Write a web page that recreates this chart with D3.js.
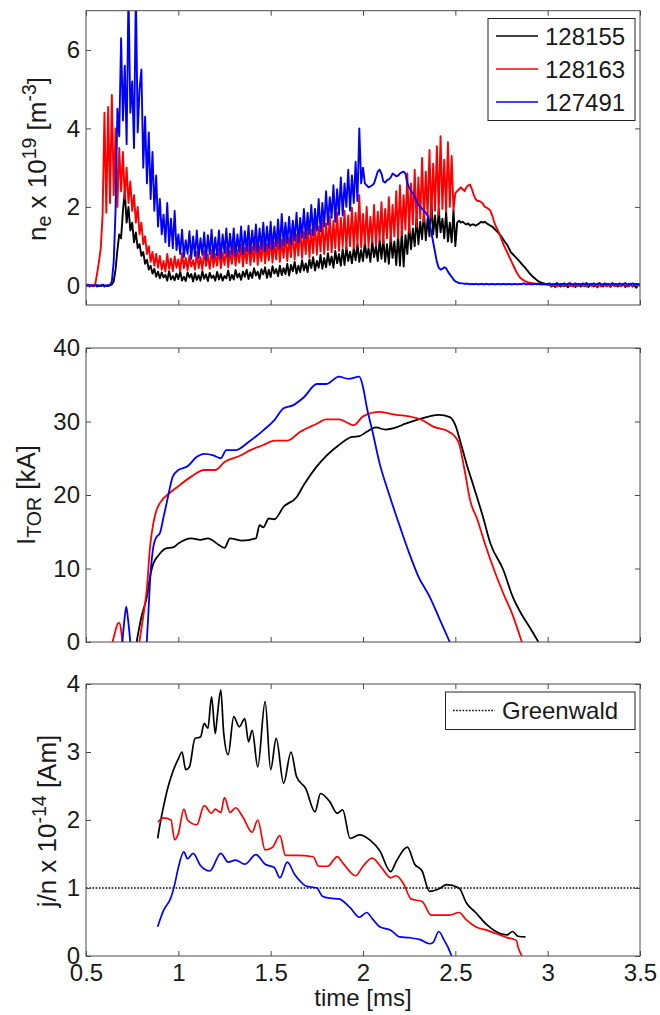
<!DOCTYPE html>
<html><head><meta charset="utf-8">
<script src="https://cdn.jsdelivr.net/npm/d3@7"></script>
<style>body{margin:0;background:#fff} svg{display:block}</style>
</head><body>
<svg id="c" width="660" height="1015"></svg>
<script>
// ---------- DATA ----------
// shared time axis [ms]
const xTicks = [0.5, 1, 1.5, 2, 2.5, 3, 3.5];
const xTickLabels = ["0.5", "1", "1.5", "2", "2.5", "3", "3.5"];
const shots = ["128155", "128163", "127491"];
const shotColors = ["#000000", "#ff0000", "#0000ff"];

// Panel 1: n_e x 1e19 [m^-3], sampled every 0.01 ms; each row = 0.1 ms starting at 0.5 ms
const neRowStart = 0.5, neRowLen = 0.1, neStep = 0.01;
const ne128155 = [
 [-0.02,0.01,-0.03,0.0,-0.02,0.02,-0.03,0.0,-0.02,0.01],
 [-0.03,0.0,-0.02,0.01,0.02,0.1,0.4,0.9,1.3,1.2],
 [1.9,2.4,1.6,2.0,1.4,1.6,1.1,1.35,0.95,1.05],
 [0.75,0.85,0.55,0.65,0.4,0.5,0.3,0.42,0.22,0.35],
 [0.18,0.33,0.2,0.27,0.12,0.36,0.15,0.24,0.13,0.3],
 [0.16,0.35,0.12,0.22,0.11,0.33,0.2,0.29,0.1,0.31],
 [0.14,0.26,0.12,0.36,0.17,0.28,0.11,0.32,0.19,0.25],
 [0.12,0.34,0.15,0.29,0.12,0.24,0.18,0.38,0.13,0.27],
 [0.15,0.39,0.2,0.3,0.14,0.35,0.22,0.4,0.16,0.33],
 [0.19,0.44,0.25,0.35,0.17,0.41,0.28,0.46,0.19,0.4],
 [0.21,0.49,0.3,0.42,0.24,0.5,0.26,0.44,0.29,0.55],
 [0.25,0.52,0.36,0.6,0.3,0.5,0.34,0.64,0.38,0.56],
 [0.34,0.66,0.44,0.72,0.38,0.62,0.45,0.78,0.42,0.7],
 [0.46,0.82,0.52,0.74,0.45,0.88,0.56,0.8,0.5,0.92],
 [0.52,0.98,0.62,0.86,0.56,0.96,0.64,1.06,0.6,0.9],
 [0.62,1.1,0.7,0.95,0.6,1.12,0.72,1.0,0.62,1.16],
 [0.68,1.2,0.6,1.05,0.55,1.25,0.7,1.12,0.52,1.3],
 [0.5,1.38,0.48,1.28,0.8,1.55,0.92,1.45,1.0,1.75],
 [1.05,1.62,1.18,1.88,1.15,1.7,1.25,2.15,1.3,1.78],
 [1.22,1.95,1.35,1.7,1.2,1.88,1.12,1.6,1.1,1.92],
 [1.0,1.6,1.65,1.6,1.62,1.58,1.55,1.58,1.52,1.55],
 [1.55,1.52,1.55,1.58,1.62,1.6,1.62,1.58,1.55,1.52],
 [1.5,1.45,1.4,1.35,1.3,1.24,1.17,1.1,1.04,0.95],
 [0.85,0.8,0.75,0.7,0.65,0.6,0.54,0.49,0.44,0.38],
 [0.32,0.27,0.22,0.18,0.14,0.1,0.08,0.06,0.05,0.04],
 [0.03,0.02,-0.03,0.01,-0.04,0.02,0.0,-0.03,0.03,-0.02],
 [0.01,-0.05,0.02,-0.01,0.03,-0.04,0.0,0.02,-0.03,0.01],
 [-0.02,0.03,-0.04,0.0,0.02,-0.03,0.01,-0.05,0.02,0.0],
 [-0.03,0.02,-0.02,0.01,-0.04,0.03,-0.01,0.02,-0.03,0.0],
 [-0.02,0.03,-0.04,0.01,-0.02,0.02,-0.03,0.0,-0.06,0.02],
 [-0.01]
];
const ne128163 = [
 [0.0,-0.02,0.01,-0.02,0.0,0.03,0.3,0.6,0.95,1.8],
 [4.4,1.85,4.55,2.1,4.85,2.3,4.0,2.0,3.5,2.4],
 [3.4,2.2,3.0,2.1,2.65,1.9,2.3,1.6,2.0,1.3],
 [1.6,1.05,1.25,0.8,1.0,0.6,0.85,0.5,0.8,0.45],
 [0.75,0.4,0.62,0.35,0.8,0.42,0.68,0.36,0.74,0.45],
 [0.66,0.36,0.82,0.44,0.7,0.38,0.76,0.48,0.64,0.4],
 [0.85,0.44,0.72,0.4,0.88,0.5,0.78,0.42,0.9,0.47],
 [0.8,0.5,0.95,0.44,0.84,0.52,0.98,0.46,0.88,0.55],
 [1.02,0.5,0.9,0.58,1.05,0.48,0.96,0.56,1.1,0.52],
 [0.98,0.6,1.12,0.52,1.02,0.62,1.16,0.56,1.05,0.64],
 [1.2,0.58,1.1,0.66,1.25,0.6,1.16,0.7,1.3,0.62],
 [1.22,0.72,1.4,0.66,1.3,0.76,1.48,0.7,1.36,0.8],
 [1.55,0.72,1.42,0.82,1.6,0.78,1.5,0.86,1.68,0.8],
 [1.58,0.9,1.76,0.84,1.65,0.95,1.85,0.88,1.72,0.98],
 [1.9,0.92,1.78,1.0,1.98,0.94,1.85,1.02,2.3,0.96],
 [1.82,1.05,2.0,0.98,1.75,1.1,2.05,1.02,1.88,1.15],
 [2.12,1.08,1.95,1.2,2.25,1.12,2.05,1.25,2.4,1.2],
 [2.55,1.28,2.3,1.42,2.85,1.35,2.6,1.55,2.95,1.5],
 [2.75,1.7,3.25,1.62,2.9,1.78,3.45,1.72,3.1,1.9],
 [3.55,1.8,3.8,1.95,3.2,1.88,3.65,2.0,3.3,1.92],
 [2.35,2.4,2.45,2.5,2.45,2.4,2.5,2.55,2.57,2.45],
 [2.3,2.2,2.15,2.15,2.12,2.08,2.0,1.98,1.95,1.9],
 [1.78,1.62,1.5,1.4,1.3,1.18,1.05,0.95,0.85,0.75],
 [0.65,0.55,0.45,0.35,0.27,0.2,0.16,0.13,0.1,0.08],
 [0.07,0.06,0.05,0.05,0.04,0.04,0.03,0.03,0.02,0.03],
 [0.01,0.03,-0.02,0.02,0.0,-0.03,0.03,0.01,-0.02,0.02],
 [0.0,0.04,-0.02,0.01,-0.03,0.02,0.0,-0.02,0.03,-0.01],
 [0.02,-0.03,0.01,0.04,-0.02,0.0,0.03,-0.02,0.01,-0.03],
 [0.03,0.0,-0.02,0.02,-0.03,0.04,0.0,-0.02,0.02,0.01],
 [-0.02,0.03,0.0,-0.03,0.02,0.01,-0.02,0.04,0.0,0.02],
 [0.0]
];
const ne127491 = [
 [0.0,0.02,-0.01,0.01,-0.02,0.0,0.01,-0.02,0.0,0.02],
 [0.0,-0.02,0.01,0.0,0.1,0.6,1.9,4.5,3.8,6.3],
 [4.2,5.6,3.6,7.5,4.4,5.2,3.5,7.5,3.9,5.0],
 [5.5,3.0,4.3,2.6,3.9,2.2,3.4,1.9,2.8,1.5],
 [2.2,1.3,1.8,1.1,2.1,1.0,1.7,0.95,1.9,0.9],
 [1.3,0.8,1.42,0.72,1.15,0.8,1.38,0.68,1.25,0.75],
 [1.4,0.7,1.2,0.78,1.35,0.66,1.28,0.8,1.42,0.7],
 [1.22,0.76,1.4,0.7,1.3,0.82,1.45,0.74,1.32,0.8],
 [1.45,0.75,1.3,0.85,1.5,0.8,1.38,0.88,1.52,0.82],
 [1.4,0.9,1.55,0.84,1.45,0.92,1.6,0.88,1.5,0.95],
 [1.62,0.92,1.5,1.0,1.68,0.96,1.82,1.02,1.6,1.08],
 [1.75,1.05,1.65,1.15,1.85,1.1,1.72,1.22,1.95,1.2],
 [1.85,1.3,2.05,1.28,1.95,1.4,2.2,1.38,2.1,1.5],
 [2.4,1.55,2.25,1.72,2.55,1.62,2.45,1.8,2.75,1.78],
 [2.6,2.0,2.95,1.9,2.8,2.1,3.15,2.15,4.0,2.6],
 [3.0,2.6,2.55,2.5,2.52,2.55,2.6,2.75,2.9,2.95],
 [2.85,2.65,2.62,2.68,2.7,2.75,2.85,2.82,2.78,2.8],
 [2.85,2.88,2.9,2.85,2.6,2.5,2.4,2.35,2.25,2.15],
 [2.05,2.0,1.95,1.9,1.85,1.78,1.6,1.35,1.1,0.85],
 [0.6,0.45,0.4,0.42,0.46,0.44,0.35,0.28,0.22,0.15],
 [0.1,0.08,0.06,0.05,0.05,0.04,0.04,0.04,0.03,0.04],
 [0.03,0.04,0.03,0.03,0.04,0.03,0.03,0.04,0.03,0.03],
 [0.04,0.03,0.03,0.04,0.03,0.03,0.04,0.03,0.03,0.04],
 [0.03,0.03,0.04,0.03,0.03,0.04,0.03,0.05,0.03,0.03],
 [0.04,0.03,0.03,0.04,0.03,0.04,0.03,0.03,0.04,0.03],
 [0.03,0.05,0.02,0.04,0.03,0.06,0.02,0.04,0.03,0.05],
 [0.02,0.04,0.06,0.03,0.02,0.05,0.03,0.04,0.02,0.05],
 [0.03,0.06,0.02,0.04,0.03,0.05,0.02,0.04,0.06,0.03],
 [0.02,0.05,0.03,0.04,0.02,0.06,0.03,0.04,0.02,0.05],
 [0.03,0.04,0.06,0.02,0.04,0.03,0.05,0.02,0.04,0.03],
 [0.03]
];
const neYTicks = [0, 2, 4, 6];

// Panel 2: I_TOR [kA], [time, value]; null = no signal above zero
const itor128155 = [[0.774,0],[0.80,3.4],[0.83,6.2],[0.85,9.3],[0.865,10.7],[0.893,11.8],[0.93,12.7],[0.974,12.9],[1.0,13.4],[1.07,14.1],[1.12,13.9],[1.16,14.1],[1.22,13.2],[1.25,12.8],[1.28,14.1],[1.34,13.8],[1.42,14.1],[1.44,15.9],[1.46,15.6],[1.49,16.8],[1.52,16.7],[1.57,18.4],[1.64,19.7],[1.68,21.4],[1.75,23.9],[1.8,25.3],[1.87,26.8],[1.94,27.9],[1.98,28.0],[2.02,28.6],[2.07,29.2],[2.12,28.9],[2.18,29.2],[2.23,29.7],[2.3,30.3],[2.36,30.7],[2.41,30.9],[2.47,30.6],[2.5,29.5],[2.53,27.0],[2.56,24.3],[2.6,21.1],[2.65,17.0],[2.69,13.4],[2.76,9.8],[2.81,6.2],[2.86,3.7],[2.9,2.1],[2.95,0]];
const itor128163 = [[0.644,0],[0.66,1.6],[0.672,2.5],[0.68,2.6],[0.69,1.6],[0.697,0],null,[0.789,0],[0.81,3.5],[0.829,7.1],[0.847,13.0],[0.865,16.2],[0.88,17.8],[0.90,18.9],[0.954,20.3],[1.0,21.2],[1.07,22.5],[1.14,23.4],[1.2,23.4],[1.25,24.5],[1.34,25.4],[1.39,26.1],[1.46,26.8],[1.52,27.4],[1.59,27.4],[1.66,28.6],[1.75,29.7],[1.8,30.3],[1.87,30.3],[1.95,29.5],[2.0,30.7],[2.09,31.3],[2.18,30.9],[2.25,30.7],[2.32,30.2],[2.38,29.3],[2.45,28.8],[2.5,27.9],[2.52,27.0],[2.55,23.4],[2.58,19.3],[2.62,16.6],[2.66,13.4],[2.71,9.8],[2.76,6.6],[2.81,3.7],[2.86,0]];
const itor127491 = [[0.697,0],[0.708,3.0],[0.718,4.8],[0.728,3.0],[0.74,0],null,[0.829,0],[0.838,4.0],[0.847,8.4],[0.865,13.0],[0.88,14.2],[0.9,14.8],[0.92,17.0],[0.94,19.3],[0.97,22.5],[1.0,23.4],[1.05,23.9],[1.1,25.2],[1.14,25.6],[1.19,25.4],[1.23,25.0],[1.26,26.1],[1.31,26.1],[1.38,27.2],[1.46,28.8],[1.52,30.2],[1.57,31.8],[1.62,32.2],[1.68,33.3],[1.75,35.1],[1.8,35.1],[1.87,36.1],[1.92,35.8],[1.98,36.1],[2.0,34.7],[2.02,32.0],[2.05,28.8],[2.09,24.3],[2.14,20.2],[2.2,15.7],[2.25,12.1],[2.3,8.9],[2.36,6.2],[2.41,3.4],[2.47,0]];
const itorYTicks = [0, 10, 20, 30, 40];

// Panel 3: j/n x 1e-14 [Am], [time, value]
const jn128155 = [[0.888,1.73],[0.905,2.0],[0.92,2.2],[0.94,2.44],[0.97,2.71],[1.0,2.9],[1.02,3.0],[1.04,2.74],[1.06,2.78],[1.09,3.2],[1.12,3.22],[1.14,3.42],[1.16,3.35],[1.18,3.81],[1.2,3.27],[1.21,3.5],[1.23,3.91],[1.245,3.3],[1.27,2.96],[1.3,3.52],[1.33,3.37],[1.36,3.49],[1.38,3.15],[1.40,3.32],[1.43,2.78],[1.47,3.74],[1.5,2.74],[1.53,3.2],[1.57,2.54],[1.61,3.0],[1.64,2.64],[1.69,2.46],[1.74,2.12],[1.77,2.39],[1.82,2.27],[1.86,2.1],[1.89,2.15],[1.93,1.73],[1.98,1.78],[2.04,1.7],[2.09,1.55],[2.15,1.24],[2.18,1.39],[2.24,1.6],[2.28,1.35],[2.32,1.25],[2.36,0.95],[2.42,1.0],[2.45,1.05],[2.52,1.0],[2.56,0.78],[2.61,0.64],[2.67,0.46],[2.72,0.36],[2.78,0.31],[2.81,0.36],[2.84,0.29],[2.88,0.28]];
const jn128163 = [[0.89,1.97],[0.92,2.03],[0.96,2.0],[0.98,1.71],[1.0,1.8],[1.03,2.16],[1.05,2.0],[1.1,1.93],[1.14,2.21],[1.18,2.1],[1.2,2.16],[1.23,2.11],[1.25,2.33],[1.28,2.11],[1.31,2.18],[1.35,2.04],[1.4,1.82],[1.43,2.0],[1.47,1.56],[1.51,1.6],[1.55,1.77],[1.58,1.48],[1.64,1.48],[1.73,1.46],[1.76,1.32],[1.81,1.32],[1.84,1.41],[1.86,1.46],[1.89,1.37],[1.96,1.18],[2.0,1.32],[2.05,1.44],[2.1,1.3],[2.15,1.15],[2.18,1.18],[2.22,1.06],[2.26,0.84],[2.32,0.8],[2.37,0.6],[2.43,0.6],[2.47,0.6],[2.52,0.64],[2.56,0.53],[2.61,0.43],[2.67,0.38],[2.72,0.33],[2.78,0.27],[2.83,0.23],[2.84,0.13],[2.86,0]];
const jn127491 = [[0.888,0.43],[0.92,0.67],[0.96,0.86],[0.98,1.05],[1.0,1.3],[1.03,1.53],[1.05,1.43],[1.08,1.51],[1.12,1.33],[1.17,1.25],[1.23,1.51],[1.27,1.38],[1.31,1.41],[1.36,1.35],[1.42,1.49],[1.47,1.35],[1.52,1.3],[1.55,1.15],[1.59,1.38],[1.63,1.2],[1.66,1.1],[1.69,1.03],[1.75,1.0],[1.78,0.88],[1.82,0.85],[1.87,0.84],[1.93,0.71],[1.98,0.57],[2.02,0.64],[2.05,0.55],[2.09,0.43],[2.15,0.38],[2.2,0.28],[2.25,0.27],[2.31,0.24],[2.36,0.18],[2.38,0.2],[2.41,0.36],[2.44,0.23],[2.46,0.13],[2.48,0]];
const greenwald = 1;
const jnYTicks = [0, 1, 2, 3, 4];

// ---------- DRAWING ----------
const FONT = "'Liberation Sans', Arial, Helvetica, sans-serif";
const AX = "#4a4a4a";
const svg = d3.select("#c");
const x = d3.scaleLinear().domain([0.5, 3.5]).range([86, 640]);

function rowsToPoints(rows) {
  return rows.flatMap((row, r) => row.map((v, j) => [neRowStart + r * neRowLen + j * neStep, v]));
}

const panels = [
  { key: "ne", y: d3.scaleLinear().domain([-0.5, 7]).range([305, 10.7]), ticks: neYTicks,
    series: [ne128155, ne128163, ne127491].map(rowsToPoints), curve: d3.curveLinear, width: 1.9 },
  { key: "it", y: d3.scaleLinear().domain([0, 40]).range([642, 348]), ticks: itorYTicks,
    series: [itor128155, itor128163, itor127491], curve: d3.curveMonotoneX, width: 1.8 },
  { key: "jn", y: d3.scaleLinear().domain([0, 4]).range([956, 684]), ticks: jnYTicks,
    series: [jn128155, jn128163, jn127491], curve: d3.curveMonotoneX, width: 1.7 }
];

panels.forEach((p, pi) => {
  const [y0, y1] = p.y.range();
  const g = svg.append("g");
  g.append("clipPath").attr("id", "clip" + pi).append("rect")
    .attr("x", x.range()[0]).attr("y", y1).attr("width", x.range()[1] - x.range()[0]).attr("height", y0 - y1);
  const plot = g.append("g").attr("clip-path", `url(#clip${pi})`);
  const line = d3.line().defined(d => d !== null).x(d => x(d[0])).y(d => p.y(d[1])).curve(p.curve);
  if (p.key === "jn") {
    plot.append("path").attr("d", d3.line().x(d => x(d[0])).y(d => p.y(d[1]))([[0.5, greenwald], [3.5, greenwald]]))
      .attr("fill", "none").attr("stroke", "#000").attr("stroke-width", 1.6).attr("stroke-dasharray", "1.6,1.6");
  }
  p.series.forEach((s, si) => {
    plot.append("path").attr("d", line(s)).attr("fill", "none")
      .attr("stroke", shotColors[si]).attr("stroke-width", p.width).attr("stroke-linejoin", "round");
  });
  // axes (MATLAB-like inward ticks on all sides)
  const styleAxis = a => {
    a.select(".domain").remove();
    a.selectAll(".tick line").attr("stroke", AX);
    a.selectAll("text").attr("font-family", FONT).attr("font-size", 24).attr("fill", "#1a1a1a");
  };
  g.append("g").attr("transform", `translate(${x.range()[0]},0)`)
    .call(d3.axisLeft(p.y).tickValues(p.ticks).tickFormat(d => String(d)).tickSizeInner(-5).tickSizeOuter(0).tickPadding(6)).call(styleAxis);
  g.append("g").attr("transform", `translate(${x.range()[1]},0)`)
    .call(d3.axisRight(p.y).tickValues(p.ticks).tickFormat("").tickSizeInner(-5).tickSizeOuter(0)).call(styleAxis);
  g.append("g").attr("transform", `translate(0,${y1})`)
    .call(d3.axisTop(x).tickValues(xTicks).tickFormat("").tickSizeInner(-5).tickSizeOuter(0)).call(styleAxis);
  const bottomAxis = d3.axisBottom(x).tickValues(xTicks).tickSizeInner(-5).tickSizeOuter(0).tickPadding(8)
    .tickFormat((d, i) => pi === 2 ? xTickLabels[i] : "");
  g.append("g").attr("transform", `translate(0,${y0})`).call(bottomAxis).call(styleAxis);
  g.append("rect").attr("x", x.range()[0]).attr("y", y1).attr("width", x.range()[1] - x.range()[0]).attr("height", y0 - y1)
    .attr("fill", "none").attr("stroke", AX).attr("stroke-width", 1);
});

// y labels
function yLabel(xb, yc, parts) {
  const t = svg.append("text").attr("transform", `translate(${xb},${yc}) rotate(-90)`)
    .attr("text-anchor", "middle").attr("font-family", FONT).attr("fill", "#1a1a1a");
  parts.forEach(pt => t.append("tspan").attr("font-size", pt[1]).attr("dy", pt[2]).text(pt[0]));
}
yLabel(46, 159, [["n", 26, 0], ["e", 19.5, 5], [" x 10", 26, -5], ["19", 19.5, -10], [" [m", 26, 10], ["-3", 19.5, -10], ["]", 26, 10]]);
yLabel(35, 495, [["I", 26, 0], ["TOR", 19.5, 6], [" [kA]", 26, -6]]);
yLabel(56, 821, [["j/n x 10", 26, 0], ["-14", 19.5, -10], [" [Am]", 26, 10]]);

svg.append("text").attr("x", 363).attr("y", 1006).attr("text-anchor", "middle")
  .attr("font-family", FONT).attr("font-size", 24).attr("fill", "#1a1a1a").text("time [ms]");

// legend 1
const lg = svg.append("g");
lg.append("rect").attr("x", 488).attr("y", 18.5).attr("width", 147).attr("height", 102)
  .attr("fill", "#fff").attr("stroke", "#222").attr("stroke-width", 1);
shots.forEach((s, i) => {
  const yy = 36 + i * 33;
  lg.append("line").attr("x1", 496).attr("x2", 538).attr("y1", yy).attr("y2", yy)
    .attr("stroke", shotColors[i]).attr("stroke-width", 1.7);
  lg.append("text").attr("x", 545).attr("y", yy + 8.5).attr("font-family", FONT).attr("font-size", 24)
    .attr("fill", "#1a1a1a").text(s);
});
// legend 2
const lg2 = svg.append("g");
lg2.append("rect").attr("x", 445.5).attr("y", 692).attr("width", 189.5).attr("height", 37.5)
  .attr("fill", "#fff").attr("stroke", "#222").attr("stroke-width", 1);
lg2.append("line").attr("x1", 453).attr("x2", 495).attr("y1", 710.5).attr("y2", 710.5)
  .attr("stroke", "#000").attr("stroke-width", 1.6).attr("stroke-dasharray", "1.6,1.6");
lg2.append("text").attr("x", 502).attr("y", 719).attr("font-family", FONT).attr("font-size", 24)
  .attr("fill", "#1a1a1a").text("Greenwald");
</script>
</body></html>
